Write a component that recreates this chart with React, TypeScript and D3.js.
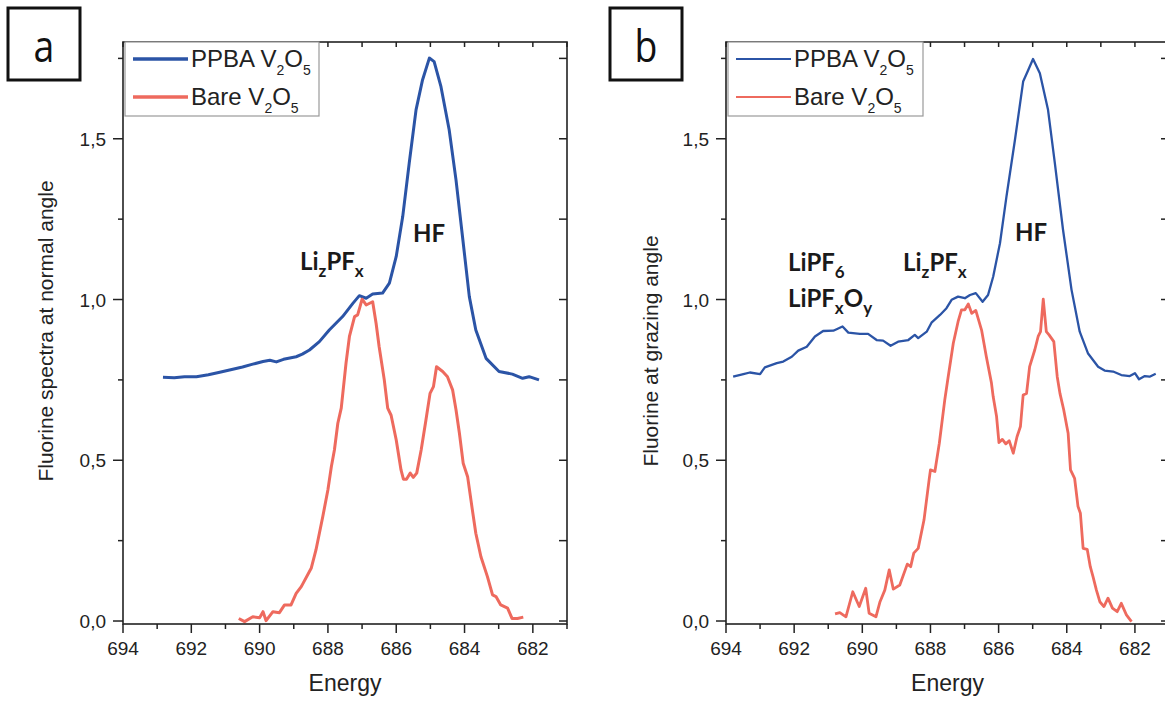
import React from "react";
import * as d3 from "d3";

// ---------- data ----------
const xTickValues = [694, 692, 690, 688, 686, 684, 682];
const yTickValues = [0, 0.5, 1.0, 1.5];
const yTickLabels = ["0,0", "0,5", "1,0", "1,5"];

// Panel a – normal angle
const aPPBAEnergy = [692.83, 692.5, 692.2, 691.85, 691.5, 691.2, 690.88, 690.5, 690.2, 689.9, 689.7, 689.51, 689.3, 688.93, 688.75, 688.54, 688.25, 687.96, 687.57, 687.27, 687.08, 686.88, 686.69, 686.4, 686.2, 686.0, 685.81, 685.62, 685.42, 685.23, 685.03, 684.89, 684.69, 684.45, 684.25, 684.06, 683.86, 683.67, 683.37, 682.99, 682.6, 682.3, 682.11, 681.82];
const aPPBAValue = [0.758, 0.757, 0.760, 0.760, 0.766, 0.773, 0.781, 0.790, 0.799, 0.807, 0.811, 0.806, 0.814, 0.822, 0.830, 0.843, 0.869, 0.905, 0.947, 0.988, 1.012, 1.004, 1.017, 1.020, 1.051, 1.134, 1.258, 1.424, 1.590, 1.683, 1.751, 1.740, 1.662, 1.528, 1.372, 1.196, 1.009, 0.905, 0.817, 0.776, 0.768, 0.755, 0.760, 0.750];
const aBareEnergy = [690.61, 690.44, 690.2, 690.0, 689.9, 689.81, 689.61, 689.42, 689.27, 689.08, 688.93, 688.78, 688.49, 688.35, 688.15, 688.0, 687.9, 687.81, 687.71, 687.61, 687.47, 687.37, 687.22, 687.13, 687.06, 687.0, 686.88, 686.69, 686.59, 686.5, 686.35, 686.25, 686.15, 686.0, 685.86, 685.79, 685.7, 685.59, 685.5, 685.4, 685.27, 685.13, 685.01, 684.91, 684.82, 684.64, 684.5, 684.35, 684.25, 684.15, 684.04, 683.91, 683.77, 683.67, 683.52, 683.33, 683.18, 683.08, 682.94, 682.74, 682.61, 682.45, 682.28];
const aBareValue = [0.008, -0.002, 0.013, 0.010, 0.029, 0.001, 0.029, 0.026, 0.050, 0.050, 0.086, 0.107, 0.164, 0.221, 0.325, 0.408, 0.480, 0.532, 0.615, 0.662, 0.802, 0.885, 0.947, 0.952, 0.978, 1.001, 0.983, 0.993, 0.926, 0.853, 0.750, 0.662, 0.640, 0.563, 0.470, 0.441, 0.441, 0.460, 0.447, 0.460, 0.532, 0.625, 0.708, 0.729, 0.791, 0.776, 0.760, 0.719, 0.657, 0.584, 0.491, 0.449, 0.345, 0.273, 0.200, 0.138, 0.081, 0.076, 0.050, 0.040, 0.008, 0.008, 0.012];

// Panel b – grazing angle
const bPPBAEnergy = [693.79, 693.49, 693.3, 693.0, 692.86, 692.51, 692.32, 692.07, 691.88, 691.63, 691.39, 691.15, 690.85, 690.58, 690.41, 690.07, 689.83, 689.58, 689.39, 689.17, 688.95, 688.65, 688.46, 688.36, 688.11, 687.97, 687.72, 687.53, 687.38, 687.19, 686.99, 686.84, 686.67, 686.47, 686.31, 686.16, 685.96, 685.77, 685.52, 685.28, 685.13, 684.99, 684.79, 684.55, 684.35, 684.11, 683.86, 683.62, 683.38, 683.08, 682.89, 682.64, 682.4, 682.15, 682.0, 681.88, 681.71, 681.57, 681.39];
const bPPBAValue = [0.760, 0.768, 0.773, 0.768, 0.789, 0.802, 0.807, 0.822, 0.841, 0.853, 0.885, 0.902, 0.903, 0.916, 0.897, 0.893, 0.893, 0.874, 0.872, 0.856, 0.869, 0.874, 0.890, 0.880, 0.900, 0.928, 0.952, 0.973, 0.999, 1.009, 1.004, 1.014, 1.020, 0.993, 1.014, 1.071, 1.175, 1.320, 1.497, 1.678, 1.714, 1.748, 1.704, 1.590, 1.424, 1.217, 1.030, 0.900, 0.833, 0.791, 0.779, 0.776, 0.765, 0.762, 0.771, 0.752, 0.762, 0.760, 0.769];
const bBareEnergy = [690.8, 690.66, 690.48, 690.28, 690.09, 689.9, 689.8, 689.6, 689.48, 689.34, 689.21, 689.09, 688.9, 688.68, 688.58, 688.49, 688.36, 688.19, 688.04, 688.0, 687.87, 687.74, 687.58, 687.48, 687.33, 687.19, 687.09, 686.99, 686.89, 686.79, 686.67, 686.5, 686.36, 686.21, 686.16, 686.06, 685.99, 685.89, 685.79, 685.69, 685.57, 685.46, 685.36, 685.28, 685.18, 685.09, 684.94, 684.84, 684.77, 684.69, 684.6, 684.52, 684.38, 684.28, 684.2, 684.09, 683.96, 683.89, 683.77, 683.67, 683.6, 683.52, 683.4, 683.31, 683.23, 683.13, 683.03, 682.91, 682.79, 682.66, 682.52, 682.4, 682.25, 682.1];
const bBareValue = [0.022, 0.026, 0.013, 0.091, 0.045, 0.102, 0.024, 0.013, 0.060, 0.096, 0.159, 0.099, 0.112, 0.177, 0.169, 0.211, 0.226, 0.314, 0.439, 0.470, 0.465, 0.553, 0.688, 0.760, 0.864, 0.931, 0.968, 0.968, 0.986, 0.957, 0.966, 0.905, 0.822, 0.740, 0.698, 0.636, 0.555, 0.565, 0.551, 0.561, 0.522, 0.573, 0.605, 0.703, 0.708, 0.791, 0.843, 0.885, 0.900, 1.001, 0.900, 0.890, 0.869, 0.760, 0.708, 0.657, 0.584, 0.470, 0.444, 0.356, 0.335, 0.226, 0.223, 0.169, 0.138, 0.096, 0.060, 0.045, 0.071, 0.040, 0.029, 0.055, 0.019, -0.002];

const BLUE = "#2b54a6";
const RED = "#ee6a5e";
const AXIS = "#222";
const SANS = "'Liberation Sans', Arial, sans-serif";
const BOLD = "Lato, 'Open Sans', sans-serif";

type Ann = { x: number; y: number; parts: [string, boolean][] };

type PanelProps = {
  left: number;
  right: number;
  letter: string;
  letterX: number;
  boxX: number;
  yLabel: string;
  yLabelX: number;
  yLabelY: number;
  blueE: number[];
  blueV: number[];
  redE: number[];
  redV: number[];
  blueW: number;
  redW: number;
  legW: number;
  legendW: number;
  anns: Ann[];
};

const TOP = 42;
const BOTTOM = 624;

function Sub({ parts, size, subSize }: { parts: [string, boolean][]; size: number; subSize: number }) {
  return (
    <>
      {parts.map(([t, sub], i) =>
        sub ? (
          <tspan key={i} fontSize={subSize} dy={size * 0.28}>{t}</tspan>
        ) : (
          <tspan key={i} fontSize={size} dy={i > 0 && parts[i - 1][1] ? -size * 0.28 : 0}>{t}</tspan>
        )
      )}
    </>
  );
}

function Panel(p: PanelProps) {
  const x = d3.scaleLinear().domain([694, 681]).range([p.left, p.right]);
  const y = d3.scaleLinear().domain([-0.0093, 1.801]).range([BOTTOM, TOP]);
  const line = d3
    .line<[number, number]>()
    .x((d) => x(d[0]))
    .y((d) => y(d[1]));
  const blue = p.blueE.map((e, i) => [e, p.blueV[i]] as [number, number]);
  const red = p.redE.map((e, i) => [e, p.redV[i]] as [number, number]);
  const xMinor = d3.range(694, 680.9, -1);
  const yMinor = d3.range(0, 1.8, 0.25);
  const legX = p.left + 2;
  const legend: [string, string][] = [
    ["PPBA", BLUE],
    ["Bare", RED],
  ];
  return (
    <g>
      {/* letter box */}
      <rect x={p.boxX} y={8} width={72} height={72} fill="none" stroke="#111" strokeWidth={3} />
      <text
        x={p.letterX}
        y={62}
        textAnchor="middle"
        fontFamily="'Open Sans', sans-serif"
        fontSize={44}
        fill="#111"
        transform={`translate(${p.letterX},0) scale(0.85,1) translate(${-p.letterX},0)`}
      >
        {p.letter}
      </text>

      {/* curves */}
      <path d={line(blue) || ""} fill="none" stroke={BLUE} strokeWidth={p.blueW} strokeLinejoin="round" />
      <path d={line(red) || ""} fill="none" stroke={RED} strokeWidth={p.redW} strokeLinejoin="round" />

      {/* frame */}
      <rect x={p.left} y={TOP} width={p.right - p.left} height={BOTTOM - TOP} fill="none" stroke={AXIS} strokeWidth={1.6} />

      {/* x ticks bottom + top */}
      {xMinor.map((v) => {
        const major = Math.abs(v % 2) < 1e-6;
        return (
          <g key={`xt${v}`}>
            <line x1={x(v)} x2={x(v)} y1={BOTTOM} y2={BOTTOM + (major ? 9 : 5)} stroke={AXIS} strokeWidth={1.5} />
            <line x1={x(v)} x2={x(v)} y1={TOP} y2={TOP + 5} stroke={AXIS} strokeWidth={1.5} />
          </g>
        );
      })}
      {xTickValues.map((v) => (
        <text key={`xl${v}`} x={x(v)} y={655} textAnchor="middle" fontFamily={SANS} fontSize={19} fill="#222">
          {v}
        </text>
      ))}

      {/* y ticks left + right */}
      {yMinor.map((v) => {
        const major = Math.abs((v / 0.5) - Math.round(v / 0.5)) < 1e-6;
        return (
          <g key={`yt${v}`}>
            <line x1={p.left - (major ? 10 : 5)} x2={p.left} y1={y(v)} y2={y(v)} stroke={AXIS} strokeWidth={1.5} />
            <line x1={p.right - 8} x2={p.right} y1={y(v)} y2={y(v)} stroke={AXIS} strokeWidth={1.5} />
          </g>
        );
      })}
      {yTickValues.map((v, i) => (
        <text key={`yl${v}`} x={p.left - 17} y={y(v) + 7} textAnchor="end" fontFamily={SANS} fontSize={19} fill="#222">
          {yTickLabels[i]}
        </text>
      ))}

      {/* axis titles */}
      <text x={(p.left + p.right) / 2} y={691} textAnchor="middle" fontFamily={SANS} fontSize={23} fill="#222">
        Energy
      </text>
      <text
        transform={`translate(${p.yLabelX},${p.yLabelY}) rotate(-90)`}
        textAnchor="middle"
        fontFamily={SANS}
        fontSize={21}
        fill="#222"
      >
        {p.yLabel}
      </text>

      {/* legend */}
      <rect x={legX} y={TOP} width={p.legendW} height={74} fill="#fff" stroke="#999" strokeWidth={1.2} />
      {legend.map(([name, col], i) => {
        const ly = 59 + i * 38;
        return (
          <g key={name}>
            <line x1={legX + 8} x2={legX + 63} y1={ly} y2={ly} stroke={col} strokeWidth={p.legW} />
            <text x={legX + 66} y={ly + 8} fontFamily={SANS} fontSize={24} fill="#222">
              <tspan>{name} V</tspan>
              <tspan fontSize={14} dy={8}>2</tspan>
              <tspan fontSize={24} dy={-8}>O</tspan>
              <tspan fontSize={14} dy={8}>5</tspan>
            </text>
          </g>
        );
      })}

      {/* annotations */}
      {p.anns.map((a, i) => (
        <text key={`an${i}`} x={a.x} y={a.y} fontFamily={BOLD} fontWeight={700} fontSize={24} fill="#1a1a1a">
          <Sub parts={a.parts} size={24} subSize={17} />
        </text>
      ))}
    </g>
  );
}

export default function App() {
  return (
    <svg
      width={1165}
      height={702}
      style={{ position: "absolute", left: 0, top: 0, background: "#fff" }}
    >
      <rect x={0} y={0} width={1165} height={702} fill="#fff" />
      <Panel
        left={123}
        right={567}
        letter="a"
        letterX={44}
        boxX={8}
        yLabel="Fluorine spectra at normal angle"
        yLabelX={53}
        yLabelY={331}
        blueE={aPPBAEnergy}
        blueV={aPPBAValue}
        redE={aBareEnergy}
        redV={aBareValue}
        blueW={3}
        redW={3}
        legW={3.5}
        legendW={194}
        anns={[
          { x: 300, y: 270, parts: [["Li", false], ["z", true], ["PF", false], ["x", true]] },
          { x: 413, y: 242, parts: [["HF", false]] },
        ]}
      />
      <Panel
        left={726}
        right={1169}
        letter="b"
        letterX={646}
        boxX={610}
        yLabel="Fluorine at grazing angle"
        yLabelX={658}
        yLabelY={351}
        blueE={bPPBAEnergy}
        blueV={bPPBAValue}
        redE={bBareEnergy}
        redV={bBareValue}
        blueW={2.3}
        redW={2.8}
        legW={2.2}
        legendW={195}
        anns={[
          { x: 788, y: 271, parts: [["LiPF", false], ["6", true]] },
          { x: 788, y: 307, parts: [["LiPF", false], ["x", true], ["O", false], ["y", true]] },
          { x: 903, y: 271, parts: [["Li", false], ["z", true], ["PF", false], ["x", true]] },
          { x: 1015, y: 241, parts: [["HF", false]] },
        ]}
      />
    </svg>
  );
}
